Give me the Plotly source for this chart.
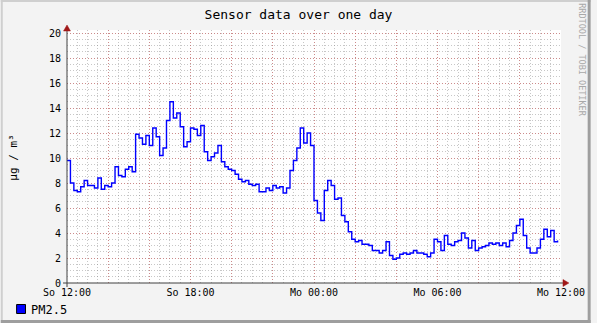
import plotly.graph_objects as go
import pandas as pd

# ---- data ----
start_time = "2024-01-07 12:00"   # Sunday 12:00
step_minutes = 10
pm25 = [
    9.8, 8.0, 7.4, 7.3, 7.7, 8.2, 7.8, 7.8, 7.6, 8.4,
    7.5, 7.8, 7.7, 8.0, 9.3, 8.6, 8.5, 9.1, 9.3, 8.9,
    11.9, 11.6, 11.1, 11.8, 11.0, 12.4, 11.7, 10.2, 10.8, 13.0,
    14.5, 13.2, 13.6, 12.5, 10.9, 11.3, 12.4, 12.3, 11.8, 12.6,
    10.5, 9.8, 10.1, 10.4, 11.0, 9.7, 9.3, 9.1, 9.0, 8.7,
    8.3, 8.1, 8.2, 7.9, 7.8, 7.9, 7.3, 7.3, 7.6, 7.4,
    7.8, 7.6, 7.7, 7.2, 7.6, 9.0, 9.8, 10.8, 12.4, 11.2,
    12.0, 11.0, 6.6, 5.6, 5.0, 7.4, 8.2, 7.8, 6.7, 6.8,
    5.4, 4.9, 4.1, 3.5, 3.3, 3.4, 3.1, 3.1, 3.0, 2.6,
    2.6, 2.4, 2.6, 3.3, 2.2, 1.9, 2.0, 2.3, 2.4, 2.3,
    2.4, 2.6, 2.4, 2.4, 2.3, 2.1, 2.4, 3.5, 3.3, 2.6,
    3.8, 3.1, 3.0, 3.3, 3.4, 4.0, 3.6, 2.8, 3.4, 2.6,
    2.8, 2.9, 3.0, 3.2, 3.1, 3.2, 3.0, 3.2, 2.9, 3.4,
    4.0, 4.6, 5.1, 3.8, 2.8, 2.4, 2.4, 2.8, 3.5, 4.3,
    3.7, 4.2, 3.3, 3.4,
]
x_tick_times = ["2024-01-07 12:00", "2024-01-07 14:00", "2024-01-07 16:00",
                "2024-01-07 18:00", "2024-01-07 20:00", "2024-01-07 22:00",
                "2024-01-08 00:00", "2024-01-08 02:00", "2024-01-08 04:00",
                "2024-01-08 06:00", "2024-01-08 08:00", "2024-01-08 10:00",
                "2024-01-08 12:00"]
x_tick_labels = ["So 12:00", "", "", "So 18:00", "", "", "Mo 00:00", "", "",
                 "Mo 06:00", "", "", "Mo 12:00"]
y_ticks = [0, 2, 4, 6, 8, 10, 12, 14, 16, 18, 20]

times = pd.date_range(start_time, periods=len(pm25), freq=f"{step_minutes}min")

# ---- layout geometry (pixels) ----
W, H = 597, 323
PL, PR, PT, PB = 67, 567, 30, 283
FONT = "DejaVu Sans Mono"


def xp(px):
    return (px - PL) / (PR - PL)


def yp(py):
    return (PB - py) / (PB - PT)


fig = go.Figure()
fig.add_trace(go.Scatter(
    x=times, y=pm25, mode="lines", line=dict(color="#0000FF", width=1.4, shape="hv"),
    name="PM2.5", showlegend=False, hoverinfo="skip"))

major_grid = "rgba(210,80,80,0.50)"
minor_grid = "rgba(130,130,130,0.45)"
dash = "1px,2px"

fig.update_xaxes(
    type="date", range=[x_tick_times[0], x_tick_times[-1]],
    tickmode="array", tickvals=x_tick_times, ticktext=x_tick_labels,
    showgrid=True, gridcolor=major_grid, griddash=dash, gridwidth=1,
    minor=dict(tickmode="linear", tick0=x_tick_times[0], dtick=30 * 60 * 1000,
               showgrid=True, gridcolor=minor_grid, griddash=dash, gridwidth=1),
    ticks="", showline=False, zeroline=False,
    tickfont=dict(family=FONT, size=10, color="#000000"),
    ticklabelstandoff=2,
)
fig.update_yaxes(
    range=[0, 20 * (PB - PT) / 250], tickmode="array", tickvals=y_ticks,
    showgrid=True, gridcolor=major_grid, griddash=dash, gridwidth=1,
    minor=dict(tickmode="linear", tick0=0, dtick=0.5,
               showgrid=True, gridcolor=minor_grid, griddash=dash, gridwidth=1),
    ticks="", showline=False, zeroline=False,
    tickfont=dict(family=FONT, size=10, color="#000000"),
    ticklabelstandoff=5,
)

shapes = []
# frame
shapes.append(dict(type="rect", xref="paper", yref="paper", x0=xp(0), x1=xp(W), y0=yp(0), y1=yp(2),
                   fillcolor="#CFCFCF", line=dict(width=0), layer="above"))
shapes.append(dict(type="rect", xref="paper", yref="paper", x0=xp(0), x1=xp(2), y0=yp(0), y1=yp(H),
                   fillcolor="#CFCFCF", line=dict(width=0), layer="above"))
shapes.append(dict(type="rect", xref="paper", yref="paper", x0=xp(0), x1=xp(W), y0=yp(H - 3), y1=yp(H),
                   fillcolor="#9E9E9E", line=dict(width=0), layer="above"))
shapes.append(dict(type="rect", xref="paper", yref="paper", x0=xp(W - 3), x1=xp(W), y0=yp(0), y1=yp(H),
                   fillcolor="#9E9E9E", line=dict(width=0), layer="above"))
# axes
axis_col = "#404040"
shapes.append(dict(type="line", xref="paper", yref="paper", x0=xp(63), x1=xp(571), y0=yp(283), y1=yp(283),
                   line=dict(color=axis_col, width=1), layer="above"))
shapes.append(dict(type="line", xref="paper", yref="paper", x0=xp(67), x1=xp(67), y0=yp(287), y1=yp(28),
                   line=dict(color=axis_col, width=1), layer="above"))
arrow_col = "#A01818"
shapes.append(dict(type="path", xref="paper", yref="paper",
                   path=f"M {xp(67)},{yp(25)} L {xp(63.5)},{yp(31)} L {xp(70.5)},{yp(31)} Z",
                   fillcolor=arrow_col, line=dict(color=arrow_col, width=0.5), layer="above"))
shapes.append(dict(type="path", xref="paper", yref="paper",
                   path=f"M {xp(575)},{yp(283)} L {xp(569)},{yp(279.5)} L {xp(569)},{yp(286.5)} Z",
                   fillcolor=arrow_col, line=dict(color=arrow_col, width=0.5), layer="above"))
# legend swatch
shapes.append(dict(type="rect", xref="paper", yref="paper", x0=xp(16), x1=xp(25), y0=yp(304.5), y1=yp(313.5),
                   fillcolor="#0000FF", line=dict(color="#000000", width=1), layer="above"))

annotations = [
    dict(text="µg / m³", xref="paper", yref="paper", x=xp(12), y=yp(158), textangle=-90,
         showarrow=False, font=dict(family=FONT, size=11, color="#000000"),
         xanchor="center", yanchor="middle"),
    dict(text="RRDTOOL / TOBI OETIKER", xref="paper", yref="paper", x=xp(588), y=yp(60), textangle=90,
         showarrow=False, font=dict(family=FONT, size=8.5, color="#A8A8A8"),
         xanchor="center", yanchor="middle"),
    dict(text="PM2.5", xref="paper", yref="paper", x=xp(29), y=yp(309.5),
         showarrow=False, font=dict(family=FONT, size=12, color="#000000"),
         xanchor="left", yanchor="middle"),
]

fig.update_layout(
    width=W, height=H,
    margin=dict(l=PL, r=W - PR, t=PT, b=H - PB, pad=0),
    paper_bgcolor="#F3F3F3", plot_bgcolor="#FFFFFF",
    title=dict(text="Sensor data over one day", x=0.5, xref="container", xanchor="center",
               y=1 - 14 / H, yref="container", yanchor="middle",
               font=dict(family=FONT, size=13, color="#000000")),
    shapes=shapes, annotations=annotations, showlegend=False,
)

fig.write_html("out.html")
